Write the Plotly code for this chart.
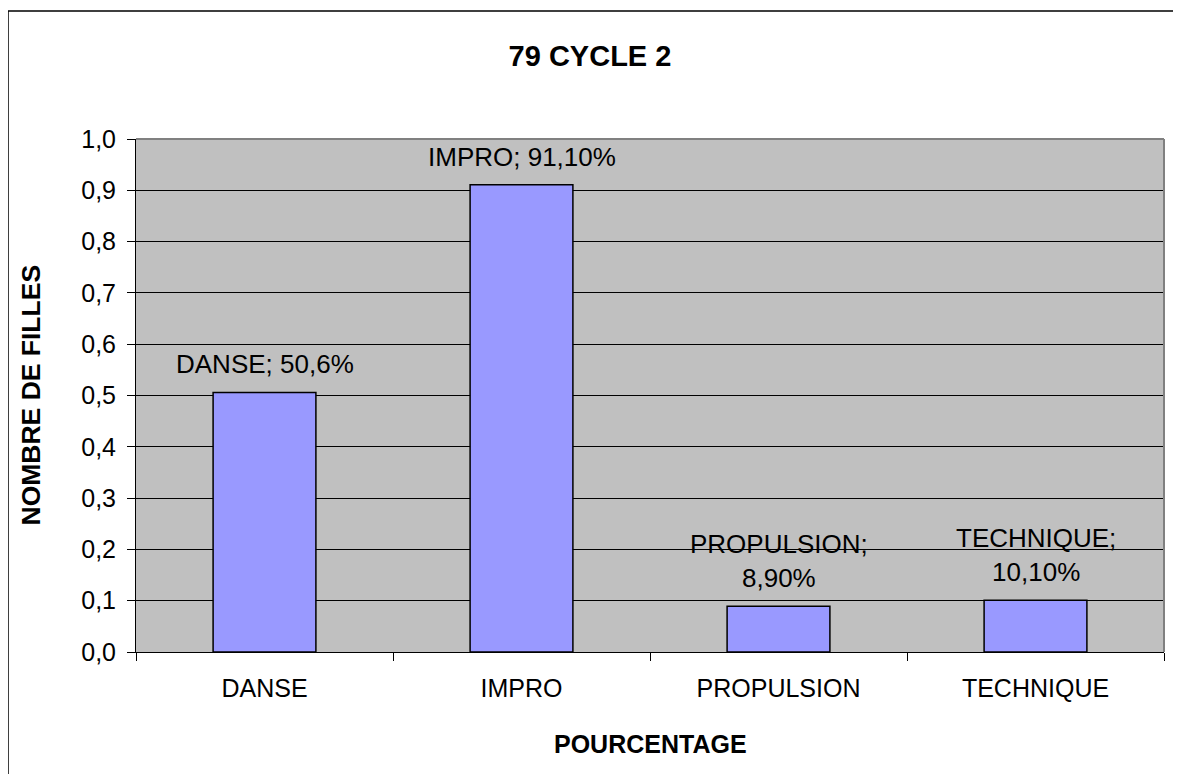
import plotly.graph_objects as go

categories = ["DANSE", "IMPRO", "PROPULSION", "TECHNIQUE"]
values = [0.506, 0.911, 0.089, 0.101]
label_texts = ["DANSE; 50,6%", "IMPRO; 91,10%", "PROPULSION;<br>8,90%", "TECHNIQUE;<br>10,10%"]

FONT = "Liberation Sans, Arial, sans-serif"

# page has an 8px body margin: figure is sized/positioned to compensate
W, H = 1173, 766
L, R, T, B = 128, 17, 131, 122
PW, PH = W - L - R, H - T - B

fig = go.Figure()
fig.add_trace(go.Bar(
    x=categories, y=values,
    marker=dict(color="#9999FF", line=dict(color="black", width=1.5)),
    hoverinfo="skip",
))

for c, v, t in zip(categories, values, label_texts):
    fig.add_annotation(x=c, y=v, text=t, showarrow=False, xref="x", yref="y",
                       yanchor="bottom", yshift=11,
                       font=dict(family=FONT, size=26, color="black"))

# outer chart border
fig.add_shape(type="rect", xref="paper", yref="paper",
              x0=-L / PW, y0=-0.4, x1=1.1, y1=(PH + T - 3) / PH,
              line=dict(color="black", width=1.5), layer="below")

fig.add_annotation(text="<b>NOMBRE DE FILLES</b>", xref="paper", yref="paper",
                   x=(22 - L) / PW, y=0.5, xanchor="center", yanchor="middle",
                   textangle=-90, showarrow=False,
                   font=dict(family=FONT, size=26.5, color="black"))
fig.add_annotation(text="<b>POURCENTAGE</b>", xref="paper", yref="paper",
                   x=0.5, y=-92 / PH, xanchor="center", yanchor="middle",
                   showarrow=False,
                   font=dict(family=FONT, size=25, color="black"))

fig.update_layout(
    width=W, height=H,
    margin=dict(l=L, r=R, t=T, b=B),
    paper_bgcolor="white", plot_bgcolor="#C0C0C0",
    separators=",.",
    showlegend=False,
    bargap=0.6,
    font=dict(family=FONT, size=25, color="black"),
    title=dict(text="<b>79 CYCLE 2</b>", xref="container", x=582 / W,
               y=1 - 48 / H, yanchor="middle", xanchor="center",
               font=dict(family=FONT, size=29, color="black")),
    xaxis=dict(showgrid=False, showline=True, linecolor="black", linewidth=1,
               ticks="outside", tickson="boundaries", ticklen=8, tickcolor="black",
               mirror=False, tickfont=dict(size=25), ticklabelstandoff=14),
    yaxis=dict(range=[0, 1.0], dtick=0.1, tickformat=".1f", showgrid=True,
               gridcolor="black", gridwidth=1, showline=True, linecolor="black",
               linewidth=1, ticks="outside", ticklen=8, tickcolor="black",
               zeroline=False, tickfont=dict(size=25), ticklabelstandoff=6),
)

# gray border on top/right of plot area
fig.add_shape(type="line", xref="paper", yref="paper", x0=0, x1=1, y0=1, y1=1,
              line=dict(color="#808080", width=2))
fig.add_shape(type="line", xref="paper", yref="paper", x0=1, x1=1, y0=0, y1=1,
              line=dict(color="#808080", width=2))

fig.write_html("out.html")
